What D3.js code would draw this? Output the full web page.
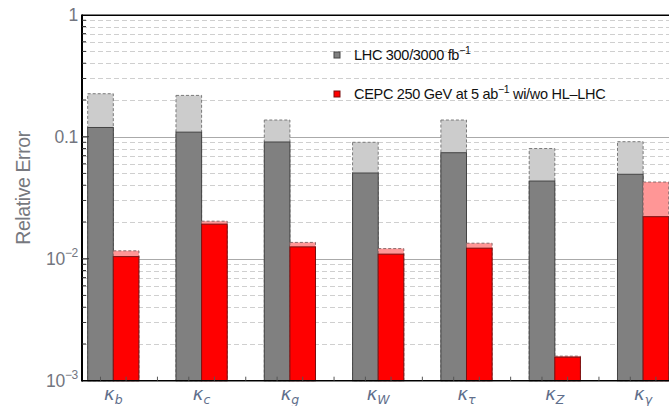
<!DOCTYPE html>
<html>
<head>
<meta charset="utf-8">
<script src="https://cdn.jsdelivr.net/npm/d3@7"></script>
<style>
  html, body { margin: 0; padding: 0; background: #fff; }
  svg { display: block; font-family: "Liberation Sans", Arial, sans-serif; }
</style>
</head>
<body>
<svg id="chart" width="669" height="406"></svg>
<script>
// Coupling modifiers (kappa) and their projected relative errors
const categories = ["b", "c", "g", "W", "τ", "Z", "γ"];
const lhc300     = [0.225, 0.218, 0.137, 0.090, 0.137, 0.080, 0.091];
const lhc3000    = [0.119, 0.109, 0.0905, 0.0504, 0.0739, 0.0433, 0.0492];
const cepcAlone  = [0.0116, 0.0203, 0.0136, 0.0121, 0.0134, 0.00159, 0.0425];
const cepcWithHL = [0.0104, 0.0192, 0.0125, 0.0109, 0.0122, 0.00156, 0.0221];
const yTickLabels = [
  { v: 1, base: "1", exp: null },
  { v: 0.1, base: "0.1", exp: null },
  { v: 0.01, base: "10", exp: "−2" },
  { v: 0.001, base: "10", exp: "−3" }
];
const legendItems = [
  { key: "lhc", text: "LHC 300/3000 fb", sup: "−1", after: "" },
  { key: "cepc", text: "CEPC 250 GeV at 5 ab", sup: "−1", after: " wi/wo HL–LHC" }
];

const svg = d3.select("#chart");
const plotLeft = 82, plotRight = 674.4, plotTop = 14.7, plotBottom = 380.7;

const x = d3.scaleBand().domain(categories).range([plotLeft, plotRight])
  .paddingInner(0.42).paddingOuter(0.0645);
const xs = d3.scaleBand().domain(["lhc", "cepc"]).range([0, x.bandwidth()]).padding(0);
const y = d3.scaleLog().domain([0.001, 1]).range([plotBottom, plotTop]);

// Grid: dashed minor lines, solid decade lines
const minor = [];
[0.001, 0.01, 0.1].forEach(d => { for (let k = 2; k <= 9; k++) minor.push(d * k); });
svg.append("g").selectAll("line").data(minor).join("line")
  .attr("x1", plotLeft).attr("x2", 669)
  .attr("y1", d => Math.round(y(d)) + 0.5).attr("y2", d => Math.round(y(d)) + 0.5)
  .attr("stroke", "#cfcfcf").attr("stroke-width", 1).attr("stroke-dasharray", "5,3");
svg.append("g").selectAll("line").data([0.1, 0.01]).join("line")
  .attr("x1", plotLeft).attr("x2", 669)
  .attr("y1", d => Math.round(y(d)) + 0.5).attr("y2", d => Math.round(y(d)) + 0.5)
  .attr("stroke", "#aaaaaa").attr("stroke-width", 1.2);

// Bars
const groups = svg.append("g").selectAll("g").data(categories).join("g")
  .attr("transform", d => `translate(${x(d)},0)`);

function bar(sel, series, key, fill, stroke, dashed) {
  sel.append("rect")
    .attr("x", xs(key))
    .attr("width", xs.bandwidth())
    .attr("y", (d, i) => y(series[i]))
    .attr("height", (d, i) => plotBottom - y(series[i]))
    .attr("fill", fill)
    .attr("stroke", stroke)
    .attr("stroke-width", 1)
    .attr("stroke-dasharray", dashed ? "3,2" : null);
}
bar(groups, lhc300, "lhc", "#cccccc", "#7a7a7a", true);
bar(groups, lhc3000, "lhc", "#808080", "#444444", false);
bar(groups, cepcAlone, "cepc", "#ff9696", "#8a6a6a", true);
bar(groups, cepcWithHL, "cepc", "#ff0000", "#7a1010", false);

// Frame
svg.append("line").attr("x1", plotLeft).attr("x2", 669).attr("y1", plotTop + 0.5).attr("y2", plotTop + 0.5)
  .attr("stroke", "#000").attr("stroke-width", 1.6);
svg.append("line").attr("x1", plotLeft).attr("x2", 669).attr("y1", plotBottom).attr("y2", plotBottom)
  .attr("stroke", "#000").attr("stroke-width", 1.4);
svg.append("line").attr("x1", plotLeft).attr("x2", plotLeft).attr("y1", plotTop - 0.3).attr("y2", plotBottom + 0.7)
  .attr("stroke", "#000").attr("stroke-width", 2);

// Left axis ticks (inward)
svg.append("g").selectAll("line").data(minor).join("line")
  .attr("x1", plotLeft).attr("x2", plotLeft + 4)
  .attr("y1", d => y(d)).attr("y2", d => y(d))
  .attr("stroke", "#333").attr("stroke-width", 1);
svg.append("g").selectAll("line").data([0.1, 0.01]).join("line")
  .attr("x1", plotLeft).attr("x2", plotLeft + 7)
  .attr("y1", d => y(d)).attr("y2", d => y(d))
  .attr("stroke", "#333").attr("stroke-width", 1);

// Bottom ticks: at each bar centre and between groups
const bticks = [];
categories.forEach((c, i) => {
  bticks.push(x(c) + xs("lhc") + xs.bandwidth() / 2);
  bticks.push(x(c) + xs("cepc") + xs.bandwidth() / 2);
  if (i < categories.length - 1) bticks.push((x(c) + x.bandwidth() + x(categories[i + 1])) / 2);
});
svg.append("g").selectAll("line").data(bticks).join("line")
  .attr("x1", d => d).attr("x2", d => d).attr("y1", plotBottom).attr("y2", plotBottom - 4)
  .attr("stroke", "#555").attr("stroke-width", 1);

// Y tick labels
const yl = svg.append("g").selectAll("text").data(yTickLabels).join("text")
  .attr("x", 78).attr("y", d => y(d.v) + 6)
  .attr("text-anchor", "end").attr("fill", "#737680")
  .attr("font-size", 17.5).attr("letter-spacing", -0.3);
yl.append("tspan").text(d => d.base);
yl.filter(d => d.exp).append("tspan").attr("dy", -8).attr("font-size", 12).text(d => d.exp);

// X category labels
const xl = svg.append("g").selectAll("text").data(categories).join("text")
  .attr("x", d => x(d) + x.bandwidth() / 2).attr("y", 400)
  .attr("text-anchor", "middle").attr("fill", "#5f6f8c")
  .attr("font-family", "DejaVu Sans").attr("font-style", "italic").attr("font-size", 18);
xl.append("tspan").text("κ");
xl.append("tspan").attr("dy", 4).attr("font-size", 12.5).text(d => d);

// Axis title
svg.append("text")
  .attr("transform", "translate(30,188) rotate(-90)")
  .attr("text-anchor", "middle").attr("fill", "#77797f")
  .attr("font-size", 19.5).attr("letter-spacing", -0.4)
  .text("Relative Error");

// Legend
const legend = svg.append("g");
const legendColors = { lhc: ["#808080", "#444"], cepc: ["#ff0000", "#7a1010"] };
legendItems.forEach((it, i) => {
  const cy = 55 + i * 39;
  legend.append("rect").attr("x", 334).attr("y", cy - 3).attr("width", 6).attr("height", 6)
    .attr("fill", legendColors[it.key][0]).attr("stroke", legendColors[it.key][1]).attr("stroke-width", 1);
  const t = legend.append("text").attr("x", 354).attr("y", cy + 5)
    .attr("font-size", 14.5).attr("fill", "#111").attr("letter-spacing", -0.3);
  t.append("tspan").text(it.text);
  t.append("tspan").attr("dy", -6).attr("font-size", 10.5).text(it.sup);
  if (it.after) t.append("tspan").attr("dy", 6).text(it.after);
});
</script>
</body>
</html>
